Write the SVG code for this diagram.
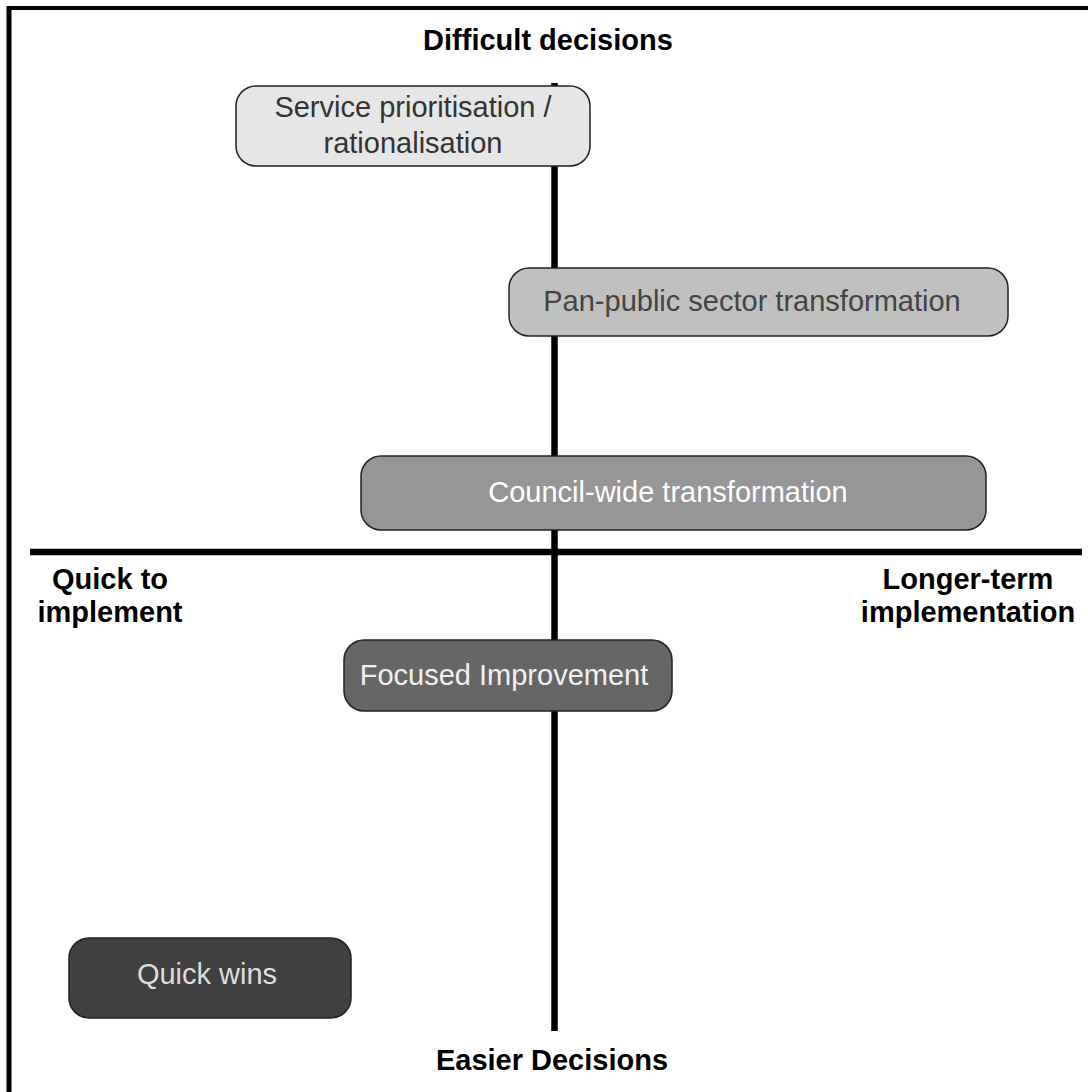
<svg xmlns="http://www.w3.org/2000/svg" width="1088" height="1092" viewBox="0 0 1088 1092">
<style>
.box{stroke:#222;stroke-width:1.5}
.bt{font-family:"Liberation Sans",Arial,sans-serif;font-size:29px;text-anchor:middle}
.lbl{font-family:"Liberation Sans",Arial,sans-serif;font-size:29px;font-weight:bold;text-anchor:middle;fill:#000}
.axis{stroke:#000;stroke-width:6.5;fill:none}
</style>
<rect width="1088" height="1092" fill="#fff"/>
<g id="frame">
<line x1="9" y1="8" x2="1088" y2="8" stroke="#000" stroke-width="4"/>
<line x1="9" y1="6" x2="9" y2="1092" stroke="#000" stroke-width="5"/>
</g>
<g id="connectors">
<line class="axis" x1="554.5" y1="83" x2="554.5" y2="1031"/>
<line class="axis" x1="30" y1="552" x2="1082" y2="552"/>
</g>
<g id="label-difficult"><text class="lbl" x="548" y="50">Difficult decisions</text></g>
<g id="label-easier"><text class="lbl" x="552" y="1070">Easier Decisions</text></g>
<g id="label-quick"><text class="lbl" x="110" y="589">Quick to</text><text class="lbl" x="110" y="622">implement</text></g>
<g id="label-longer"><text class="lbl" x="968" y="589">Longer-term</text><text class="lbl" x="968" y="622">implementation</text></g>
<g id="node-service">
<rect class="box" x="236" y="86" width="354" height="80" rx="20" fill="#e6e6e6"/>
<text class="bt" x="413" y="117" fill="#333">Service prioritisation /</text>
<text class="bt" x="413" y="153" fill="#333">rationalisation</text>
</g>
<g id="node-panpublic">
<rect class="box" x="509" y="268" width="499" height="68" rx="20" fill="#c0c0c0"/>
<text class="bt" x="752" y="311" fill="#444">Pan-public sector transformation</text>
</g>
<g id="node-council">
<rect class="box" x="361" y="456" width="625" height="74" rx="20" fill="#969696"/>
<text class="bt" x="668" y="502" fill="#fff">Council-wide transformation</text>
</g>
<g id="node-focused">
<rect class="box" x="344" y="640" width="328" height="71" rx="20" fill="#666"/>
<text class="bt" x="504" y="685" fill="#f0f0f0">Focused Improvement</text>
</g>
<g id="node-quickwins">
<rect class="box" x="69" y="938" width="282" height="80" rx="20" fill="#404040"/>
<text class="bt" x="207" y="984" fill="#ddd">Quick wins</text>
</g>
</svg>
